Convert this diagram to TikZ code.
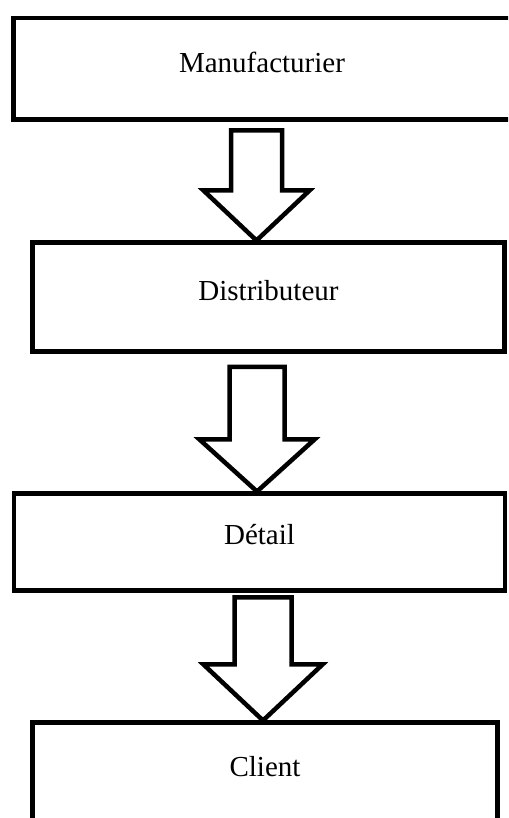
\documentclass[tikz,border=0pt]{standalone}
\usepackage{fontspec}
\setmainfont{Liberation Serif}
\usepackage{tikz}
\usetikzlibrary{calc}

\begin{document}
\begin{tikzpicture}[x=1pt, y=1pt,
    box/.style={rectangle, draw, line width=4.5pt, inner sep=0pt, anchor=north, font=\fontsize{29}{34}\selectfont},
    flow/.style={draw, line width=4.5pt, fill=white}]

    \useasboundingbox (0,0) rectangle (508,818);
    \clip (0,0) rectangle (508,818);

    \node[box, minimum width=520pt, text height=54.3pt, text depth=47.5pt] (manu) at (273.5,802.3) {\hspace*{-23pt}Manufacturier};

    \node[box, minimum width=472pt, text height=57.8pt, text depth=51.2pt] (dist) at (268.5,577.5) {Distributeur};

    \node[box, minimum width=491pt, text height=51.2pt, text depth=45.8pt] (detail) at (259.5,326.5) {Détail};

    \node[box, minimum width=465pt, text height=53.8pt, text depth=60pt] (client) at (265,97.5) {Client};

    % block arrows between the boxes
    \draw[flow] let \p1=(manu.south), \p2=(dist.north) in
        (231pt,\y1-8.5pt) -- (282pt,\y1-8.5pt) -- (282pt,\y2+50pt) -- (309.5pt,\y2+50pt)
        -- (256.5pt,\y2) -- (203.5pt,\y2+50pt) -- (231pt,\y2+50pt) -- cycle;

    \draw[flow] let \p1=(dist.south), \p2=(detail.north) in
        (229.5pt,\y1-13pt) -- (284.5pt,\y1-13pt) -- (284.5pt,\y2+52pt) -- (314.5pt,\y2+52pt)
        -- (257pt,\y2) -- (199.5pt,\y2+52pt) -- (229.5pt,\y2+52pt) -- cycle;

    \draw[flow] let \p1=(detail.south), \p2=(client.north) in
        (234.5pt,\y1-4.5pt) -- (291.5pt,\y1-4.5pt) -- (291.5pt,\y2+56pt) -- (322.5pt,\y2+56pt)
        -- (263pt,\y2) -- (203.5pt,\y2+56pt) -- (234.5pt,\y2+56pt) -- cycle;

\end{tikzpicture}
\end{document}
